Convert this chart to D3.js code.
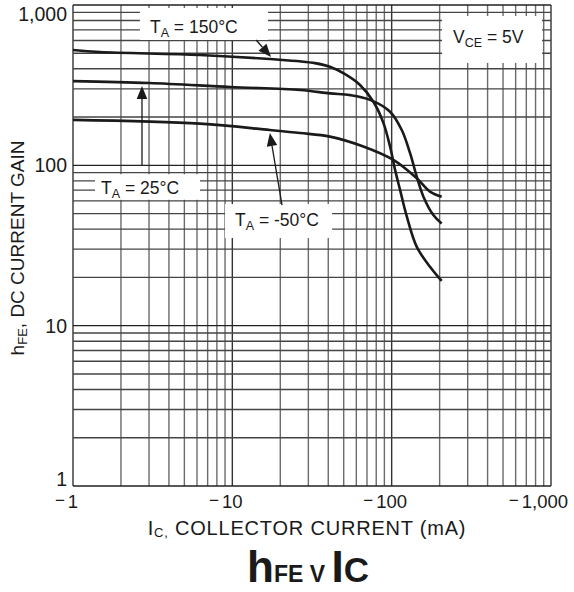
<!DOCTYPE html>
<html><head><meta charset="utf-8">
<script src="https://cdn.jsdelivr.net/npm/d3@7"></script>
<style>
body{margin:0;background:#fff}
svg{display:block}
text{font-family:"Liberation Sans",Arial,Helvetica,sans-serif;fill:#1a1a1a}
</style>
</head><body>
<svg id="chart" width="574" height="592"></svg>
<script>
// ---- data ----
const xTickValues = [1, 10, 100, 1000];
const xTickLabels = ["1", "10", "100", "1,000"];
const yTickValues = [1, 10, 100, 1000];
const yTickLabels = ["1", "10", "100", "1,000"];

const ic150  = [1, 1.48, 6.27, 17.2, 33, 41, 51, 63.3, 76.8, 88.7, 97.7, 105, 113, 124.4, 143.7, 174, 206];
const hfe150 = [524, 509, 488, 460, 434, 412, 370, 317, 249, 184, 131, 94, 70, 48, 31, 23.3, 19];

const ic25  = [1, 3, 9.7, 26.6, 41, 54.8, 73.2, 97.7, 115.7, 130.5, 143.7, 158, 182.6, 206];
const hfe25 = [335, 326, 308, 295, 281, 274, 256, 216, 166, 119, 85, 64, 49, 43.4];

const icm50  = [1, 6.27, 17.2, 26.6, 41, 66.4, 102.5, 143.7, 174, 206];
const hfem50 = [192, 182, 166, 159, 151, 131, 108, 83, 68.5, 63.7];

// annotation boxes [x0, x1, yTop, yBottom] in data units, text anchor [x, y]
const notes = [
  {sub:"A", pre:"T", post:" = 150°C", box:[2.63, 16.75, 958, 605], at:[3.04, 669]},
  {sub:"A", pre:"T", post:" = 25°C",  box:[1.375, 6.27, 88, 61],   at:[1.5, 66.2]},
  {sub:"A", pre:"T", post:" = -50°C", box:[9.0, 42.3, 57.4, 35.2], at:[10.4, 41.8]},
  {sub:"CE", pre:"V", post:" = 5V",   box:[207, 879, 854, 435],    at:[243, 579]}
];
const arrows = [
  {from:[14.1, 605], to:[17.5, 474]},
  {from:[2.71, 100], to:[2.71, 312]},
  {from:[20.5, 56.5], to:[17.2, 159]}
];

// ---- layout ----
const svg = d3.select("#chart");
const L = 73, R = 551, T = 5, B = 486;
const x = d3.scaleLog().domain([1, 1000]).range([L, R]);
const y = d3.scaleLog().domain([1, 1000]).range([B, T]);

// grid
const gridVals = [];
[1, 10, 100].forEach(d => { for (let k = 1; k <= 9; k++) gridVals.push(d * k); });
gridVals.push(1000);
const isMajor = d => Math.abs(Math.log10(d) - Math.round(Math.log10(d))) < 1e-9;
const g = svg.append("g");
g.selectAll("line.v").data(gridVals).join("line")
  .attr("x1", d => x(d)).attr("x2", d => x(d)).attr("y1", T).attr("y2", B)
  .attr("stroke", d => isMajor(d) ? "#333" : "#6b6b6b")
  .attr("stroke-width", 1.4);
g.selectAll("line.h").data(gridVals).join("line")
  .attr("y1", d => y(d)).attr("y2", d => y(d)).attr("x1", L).attr("x2", R)
  .attr("stroke", d => isMajor(d) ? "#222" : "#444")
  .attr("stroke-width", 1.4);

// annotation boxes (white) cover grid
notes.forEach(n => {
  svg.append("rect")
    .attr("x", x(n.box[0])).attr("y", y(n.box[2]))
    .attr("width", x(n.box[1]) - x(n.box[0]))
    .attr("height", y(n.box[3]) - y(n.box[2]))
    .attr("fill", "#fff");
});

// curves
const line = d3.line().x(d => x(d[0])).y(d => y(d[1])).curve(d3.curveCatmullRom.alpha(0.5));
[[ic150, hfe150], [ic25, hfe25], [icm50, hfem50]].forEach(([a, b]) => {
  svg.append("path").datum(a.map((v, i) => [v, b[i]]))
    .attr("d", line).attr("fill", "none")
    .attr("stroke", "#1a1a1a").attr("stroke-width", 2.6);
});

// arrows
arrows.forEach(a => {
  const x1 = x(a.from[0]), y1 = y(a.from[1]), x2 = x(a.to[0]), y2 = y(a.to[1]);
  const ang = Math.atan2(y2 - y1, x2 - x1);
  const len = 13, w = 5.3;
  const bx = x2 - len * Math.cos(ang), by = y2 - len * Math.sin(ang);
  svg.append("line").attr("x1", x1).attr("y1", y1).attr("x2", bx).attr("y2", by)
    .attr("stroke", "#1a1a1a").attr("stroke-width", 1.3);
  const px = -Math.sin(ang) * w, py = Math.cos(ang) * w;
  svg.append("path")
    .attr("d", `M${x2},${y2}L${bx + px},${by + py}L${bx - px},${by - py}Z`)
    .attr("fill", "#1a1a1a");
});

// annotation text
notes.forEach(n => {
  const t = svg.append("text").attr("x", x(n.at[0])).attr("y", y(n.at[1]))
    .attr("font-size", 17.5);
  t.append("tspan").text(n.pre);
  t.append("tspan").attr("font-size", 12.5).attr("dy", 4).text(n.sub);
  t.append("tspan").attr("dy", -4).text(n.post);
});

// y tick labels
yTickValues.forEach((v, i) => {
  const cy = Math.max(T + 9, Math.min(B - 7, y(v)));
  svg.append("text").attr("x", 67).attr("y", cy).attr("dy", "0.36em")
    .attr("text-anchor", "end").attr("font-size", 19.5).text(yTickLabels[i]);
});

// x tick labels (number centred on gridline, minus sign in front)
xTickValues.forEach((v, i) => {
  const num = svg.append("text").attr("y", 508).attr("font-size", 18.5)
    .attr("text-anchor", "middle").text(xTickLabels[i]);
  const w = num.node().getComputedTextLength();
  let cx = Math.min(x(v), 568 - w / 2);
  num.attr("x", cx);
  svg.append("text").attr("x", cx - w / 2 - 3).attr("y", 506)
    .attr("text-anchor", "end").attr("font-size", 17).text("\u2212");
});

// axis titles
const xt = svg.append("text").attr("x", 307).attr("y", 535)
  .attr("text-anchor", "middle").attr("font-size", 20).attr("letter-spacing", 0.8);
xt.append("tspan").text("I");
xt.append("tspan").attr("font-size", 13).attr("dy", 2).text("C,");
xt.append("tspan").attr("dy", -2).text("  COLLECTOR CURRENT (mA)");

const yt = svg.append("text").attr("transform", "translate(24,248) rotate(-90)")
  .attr("text-anchor", "middle").attr("font-size", 19);
yt.append("tspan").text("h");
yt.append("tspan").attr("font-size", 13).attr("dy", 3).text("FE");
yt.append("tspan").attr("dy", -3).text(", DC CURRENT GAIN");

// chart title
const tt = svg.append("text").attr("x", 308).attr("y", 582)
  .attr("text-anchor", "middle").attr("font-weight", "bold").attr("font-size", 44);
tt.append("tspan").text("h");
tt.append("tspan").attr("font-size", 23).text("FE V ");
tt.append("tspan").text("I");
tt.append("tspan").attr("font-size", 35).text("C");
</script>
</body></html>
